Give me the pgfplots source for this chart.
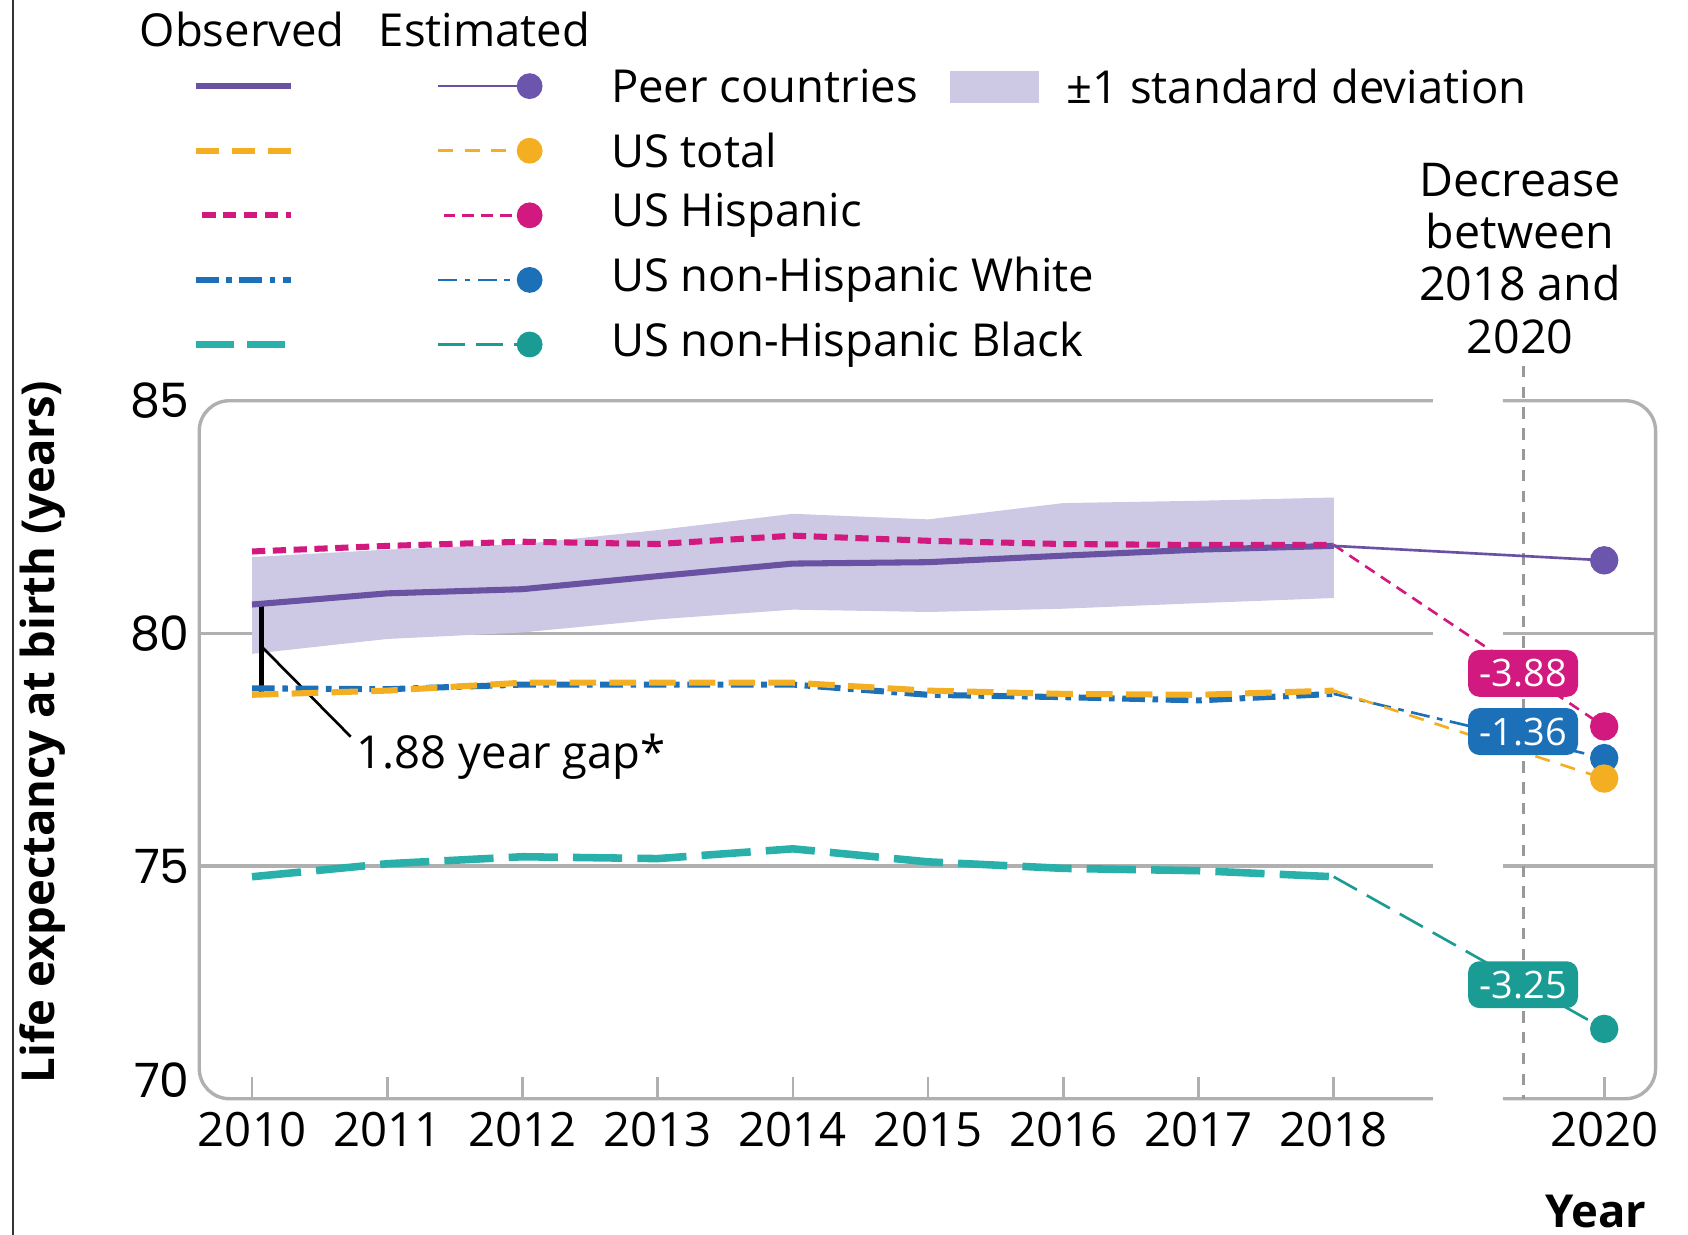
\documentclass[border=0pt]{standalone}
\usepackage{pgfplots}
\pgfplotsset{compat=1.18}
\usepackage{fontspec}
\setmainfont{Open Sans}
\newfontfamily\tickfont{Poppins}
\definecolor{peer}{HTML}{6A52A3}
\definecolor{peerdot}{HTML}{6B55AD}
\definecolor{band}{HTML}{CDC8E4}
\definecolor{ustot}{HTML}{F4AE22}
\definecolor{hisp}{HTML}{D1197F}
\definecolor{white1}{HTML}{1C70B8}
\definecolor{black1}{HTML}{2AB0AA}
\definecolor{black2}{HTML}{1A9B93}
\definecolor{framegray}{HTML}{B0B0B0}
\begin{document}
\begin{tikzpicture}
\begin{scope}[x=0.01cm,y=-0.01cm]
\path[use as bounding box] (0,0) rectangle (1568,1147);
\draw[black!80, line width=0.6pt] (12,0) -- (12,1147);
% legend
\tikzset{lg/.style={anchor=west, inner sep=0pt, font=\fontsize{12}{14}\selectfont}}
\node[font=\fontsize{12}{14}\selectfont] at (225,27) {Observed};
\node[font=\fontsize{12}{14}\selectfont] at (450,27) {Estimated};
\fill[band] (882,66) rectangle (965,96);
\node[lg] at (990,80) {±1 standard deviation};
% rows
\draw[peer, line width=1.5pt] (182,80) -- (270,80);
\draw[peer, line width=0.7pt] (407,80) -- (492,80);
\fill[peerdot] (492,80) circle (12);
\node[lg] at (567,80) {Peer countries};
\draw[ustot, line width=1.5pt, dash pattern=on 6pt off 3.5pt] (182,140) -- (270,140);
\draw[ustot, line width=0.7pt, dash pattern=on 4pt off 3pt] (407,140) -- (492,140);
\fill[ustot] (492,140) circle (12);
\node[lg] at (567,140) {US total};
\draw[hisp, line width=1.5pt, dash pattern=on 3.5pt off 2pt] (188,200) -- (270,200);
\draw[hisp, line width=0.7pt, dash pattern=on 3pt off 2pt] (412,200) -- (492,200);
\fill[hisp] (492,200) circle (12);
\node[lg] at (567,200) {US Hispanic};
\draw[white1, line width=1.5pt, dash pattern=on 6pt off 2pt on 1.5pt off 2pt] (182,260) -- (270,260);
\draw[white1, line width=0.7pt, dash pattern=on 5pt off 2pt on 1.5pt off 2pt] (407,260) -- (492,260);
\fill[white1] (492,260) circle (12);
\node[lg] at (567,260) {US non-Hispanic White};
\draw[black1, line width=1.7pt, dash pattern=on 10pt off 3.5pt] (182,320) -- (270,320);
\draw[black2, line width=0.7pt, dash pattern=on 7pt off 3pt] (407,320) -- (492,320);
\fill[black2] (492,320) circle (12);
\node[lg] at (567,320) {US non-Hispanic Black};
\node[align=center, font=\fontsize{12.3}{13.8}\selectfont, anchor=center] at (1412,240) {Decrease\\between\\2018 and\\2020};
\node[font=\bfseries\fontsize{12}{14}\selectfont, anchor=east, inner sep=0pt] at (1530,1125) {Year};
\node[font=\bfseries\fontsize{12}{14}\selectfont, rotate=90] at (40,680) {Life expectancy at birth (years)};
\end{scope}
\begin{axis}[
  at={(1.85cm,-10.20cm)}, anchor=south west,
  scale only axis, width=13.52cm, height=6.48cm,
  xmin=2009.61, xmax=2020.38, ymin=70, ymax=85,
  axis x line*=bottom, axis y line*=left,
  axis line style={draw=none},
  xtick={2010,2011,2012,2013,2014,2015,2016,2017,2018,2020},
  ytick={75,80,85},
  extra y ticks={70},
  extra y tick style={yticklabel style={yshift=5pt}},
  tick align=inside, major tick length=0.2cm,
  xtick style={draw=framegray, line width=0.7pt},
  ytick style={draw=none},
  /pgf/number format/1000 sep={},
  /pgf/number format/assume math mode=true,
  x tick label style={font=\fontsize{12.5}{14}\selectfont, yshift=0pt},
  y tick label style={font=\tickfont\fontsize{12.5}{14}\selectfont, xshift=1pt},
  clip=false,
]
% frame and grid
\draw[framegray, line width=0.9pt, rounded corners=0.28cm] (axis cs:2018.733,85) -- (axis cs:2009.61,85) -- (axis cs:2009.61,70) -- (axis cs:2018.733,70);
\draw[framegray, line width=0.9pt, rounded corners=0.28cm] (axis cs:2019.251,85) -- (axis cs:2020.38,85) -- (axis cs:2020.38,70) -- (axis cs:2019.251,70);
\draw[framegray, line width=0.9pt] (axis cs:2009.61,80) -- (axis cs:2018.733,80);
\draw[framegray, line width=0.9pt] (axis cs:2009.61,75) -- (axis cs:2018.733,75);
\draw[framegray, line width=0.9pt] (axis cs:2019.251,80) -- (axis cs:2020.38,80);
\draw[framegray, line width=0.9pt] (axis cs:2019.251,75) -- (axis cs:2020.38,75);
\draw[gray!80, line width=0.8pt, dash pattern=on 3pt off 2.5pt] (axis cs:2019.4,85.75) -- (axis cs:2019.4,70);
% band
\addplot[fill=band, draw=none] coordinates {
 (2010,81.64) (2011,81.80) (2012,81.92) (2013,82.22) (2014,82.57) (2015,82.45) (2016,82.80) (2017,82.85) (2018,82.92)
 (2018,80.76) (2017,80.65) (2016,80.53) (2015,80.46) (2014,80.51) (2013,80.30) (2012,80.02) (2011,79.88) (2010,79.56)
} -- cycle;
% gap annotation
\draw[black, line width=1.4pt] (axis cs:2010.07,80.62) -- (axis cs:2010.07,78.72);
\draw[black, line width=0.7pt] (axis cs:2010.07,79.72) -- (axis cs:2010.73,77.78);
\node[anchor=west, inner sep=0pt, font=\fontsize{12}{14}\selectfont] at (axis cs:2010.77,77.36) {1.88 year gap*};
% estimated
\addplot[black2, line width=0.7pt, dash pattern=on 7pt off 3pt, mark=*, mark size=3.4pt, mark indices={2}, mark options={solid}] coordinates {(2018,74.77) (2020,71.50)};
\addplot[white1, line width=0.7pt, dash pattern=on 5pt off 2pt on 1.5pt off 2pt, mark=*, mark size=3.4pt, mark indices={2}, mark options={solid}] coordinates {(2018,78.70) (2020,77.32)};
\addplot[ustot, line width=0.7pt, dash pattern=on 4pt off 3pt, mark=*, mark size=3.4pt, mark indices={2}, mark options={solid}] coordinates {(2018,78.77) (2020,76.88)};
\addplot[hisp, line width=0.7pt, dash pattern=on 3pt off 2pt, mark=*, mark size=3.4pt, mark indices={2}, mark options={solid}] coordinates {(2018,81.90) (2020,78.00)};
\addplot[peer, line width=0.7pt, mark=*, mark size=3.4pt, mark indices={2}, mark options={solid, fill=peerdot, draw=peerdot}] coordinates {(2018,81.88) (2020,81.57)};
% observed
\addplot[white1, line width=1.6pt, dash pattern=on 6pt off 2pt on 1.5pt off 2pt] coordinates {
 (2010,78.82) (2011,78.80) (2012,78.90) (2013,78.90) (2014,78.90) (2015,78.68) (2016,78.63) (2017,78.56) (2018,78.70)};
\addplot[ustot, line width=1.6pt, dash pattern=on 7pt off 3.5pt] coordinates {
 (2010,78.68) (2011,78.77) (2012,78.94) (2013,78.94) (2014,78.94) (2015,78.77) (2016,78.70) (2017,78.68) (2018,78.77)};
\addplot[peer, line width=1.6pt] coordinates {
 (2010,80.62) (2011,80.86) (2012,80.95) (2013,81.23) (2014,81.50) (2015,81.53) (2016,81.67) (2017,81.80) (2018,81.88)};
\addplot[hisp, line width=1.6pt, dash pattern=on 3.5pt off 2pt] coordinates {
 (2010,81.76) (2011,81.88) (2012,81.97) (2013,81.92) (2014,82.10) (2015,81.99) (2016,81.92) (2017,81.90) (2018,81.90)};
\addplot[black1, line width=2pt, dash pattern=on 13pt off 4pt] coordinates {
 (2010,74.77) (2011,75.05) (2012,75.20) (2013,75.16) (2014,75.37) (2015,75.09) (2016,74.95) (2017,74.90) (2018,74.77)};
% decrease labels
\node[fill=hisp, text=white, rounded corners=3pt, inner xsep=3pt, inner ysep=2.5pt, font=\fontsize{10}{11}\selectfont] at (axis cs:2019.4,79.14) {-3.88};
\node[fill=white1, text=white, rounded corners=3pt, inner xsep=3pt, inner ysep=2.5pt, font=\fontsize{10}{11}\selectfont] at (axis cs:2019.4,77.89) {-1.36};
\node[fill=black2, text=white, rounded corners=3pt, inner xsep=3pt, inner ysep=2.5pt, font=\fontsize{10}{11}\selectfont] at (axis cs:2019.4,72.45) {-3.25};
\end{axis}
\end{tikzpicture}
\end{document}
